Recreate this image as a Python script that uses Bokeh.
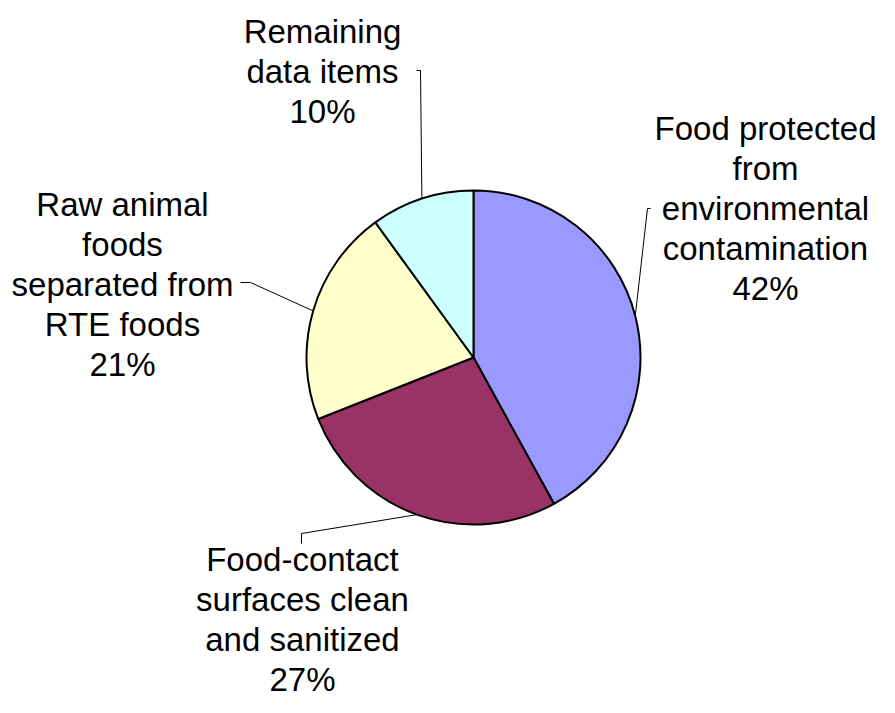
import numpy as np
from bokeh.plotting import figure
from bokeh.models import Range1d, ColumnDataSource
from bokeh.core.properties import value
from bokeh.embed import file_html
from bokeh.resources import INLINE

# ---- data ----
categories = ["Food protected\nfrom\nenvironmental\ncontamination",
              "Food-contact\nsurfaces clean\nand sanitized",
              "Raw animal\nfoods\nseparated from\nRTE foods",
              "Remaining\ndata items"]
percents = [42, 27, 21, 10]
colors = ["#9999FF", "#993366", "#FFFFCC", "#CCFFFF"]

# ---- layout (pixel-like coordinates, y measured upward) ----
W, H = 879, 697
TOP = H  # y_data = TOP - y_img
cx, cy, R = 473, TOP - 357, 167

label_pos = [(765, TOP - 208), (302, TOP - 619), (122, TOP - 284), (322, TOP - 71)]
# leader: (tick end near text), (elbow point)
leader_tick = [((650, TOP - 208), (647, TOP - 208)),
               ((301, TOP - 543), (301, TOP - 533)),
               ((240, TOP - 282), (250, TOP - 282)),
               ((416, TOP - 70), (420, TOP - 70))]

vals = np.array(percents, dtype=float)
frac = vals / vals.sum()
cum = np.concatenate([[0], np.cumsum(frac)])
start = np.pi / 2 - 2 * np.pi * cum[1:]
end = np.pi / 2 - 2 * np.pi * cum[:-1]
mid = np.pi / 2 - 2 * np.pi * (cum[:-1] + cum[1:]) / 2

p = figure(width=W, height=H, output_backend="svg", toolbar_location=None,
           x_range=Range1d(0, W), y_range=Range1d(0, H), min_border=0)
p.axis.visible = False
p.grid.visible = False
p.outline_line_color = None
p.background_fill_color = "white"

src = ColumnDataSource(dict(start=start, end=end, color=colors))
p.wedge(x=cx, y=cy, radius=R, start_angle="start", end_angle="end",
        fill_color="color", line_color="black", line_width=2, source=src)

for i in range(len(percents)):
    ex = cx + R * np.cos(mid[i])
    ey = cy + R * np.sin(mid[i])
    (tx, ty), (bx, by) = leader_tick[i]
    p.line([tx, bx, ex], [ty, by, ey], line_color="black", line_width=1)

texts = [f"{c}\n{v}%" for c, v in zip(categories, percents)]
p.text(x=[lp[0] for lp in label_pos], y=[lp[1] for lp in label_pos], text=texts,
       text_align="center", text_baseline="middle",
       text_font=value("Liberation Sans"), text_font_size="33px",
       text_line_height=1.08, text_color="black")

open("out.html", "w").write(file_html(p, INLINE))
